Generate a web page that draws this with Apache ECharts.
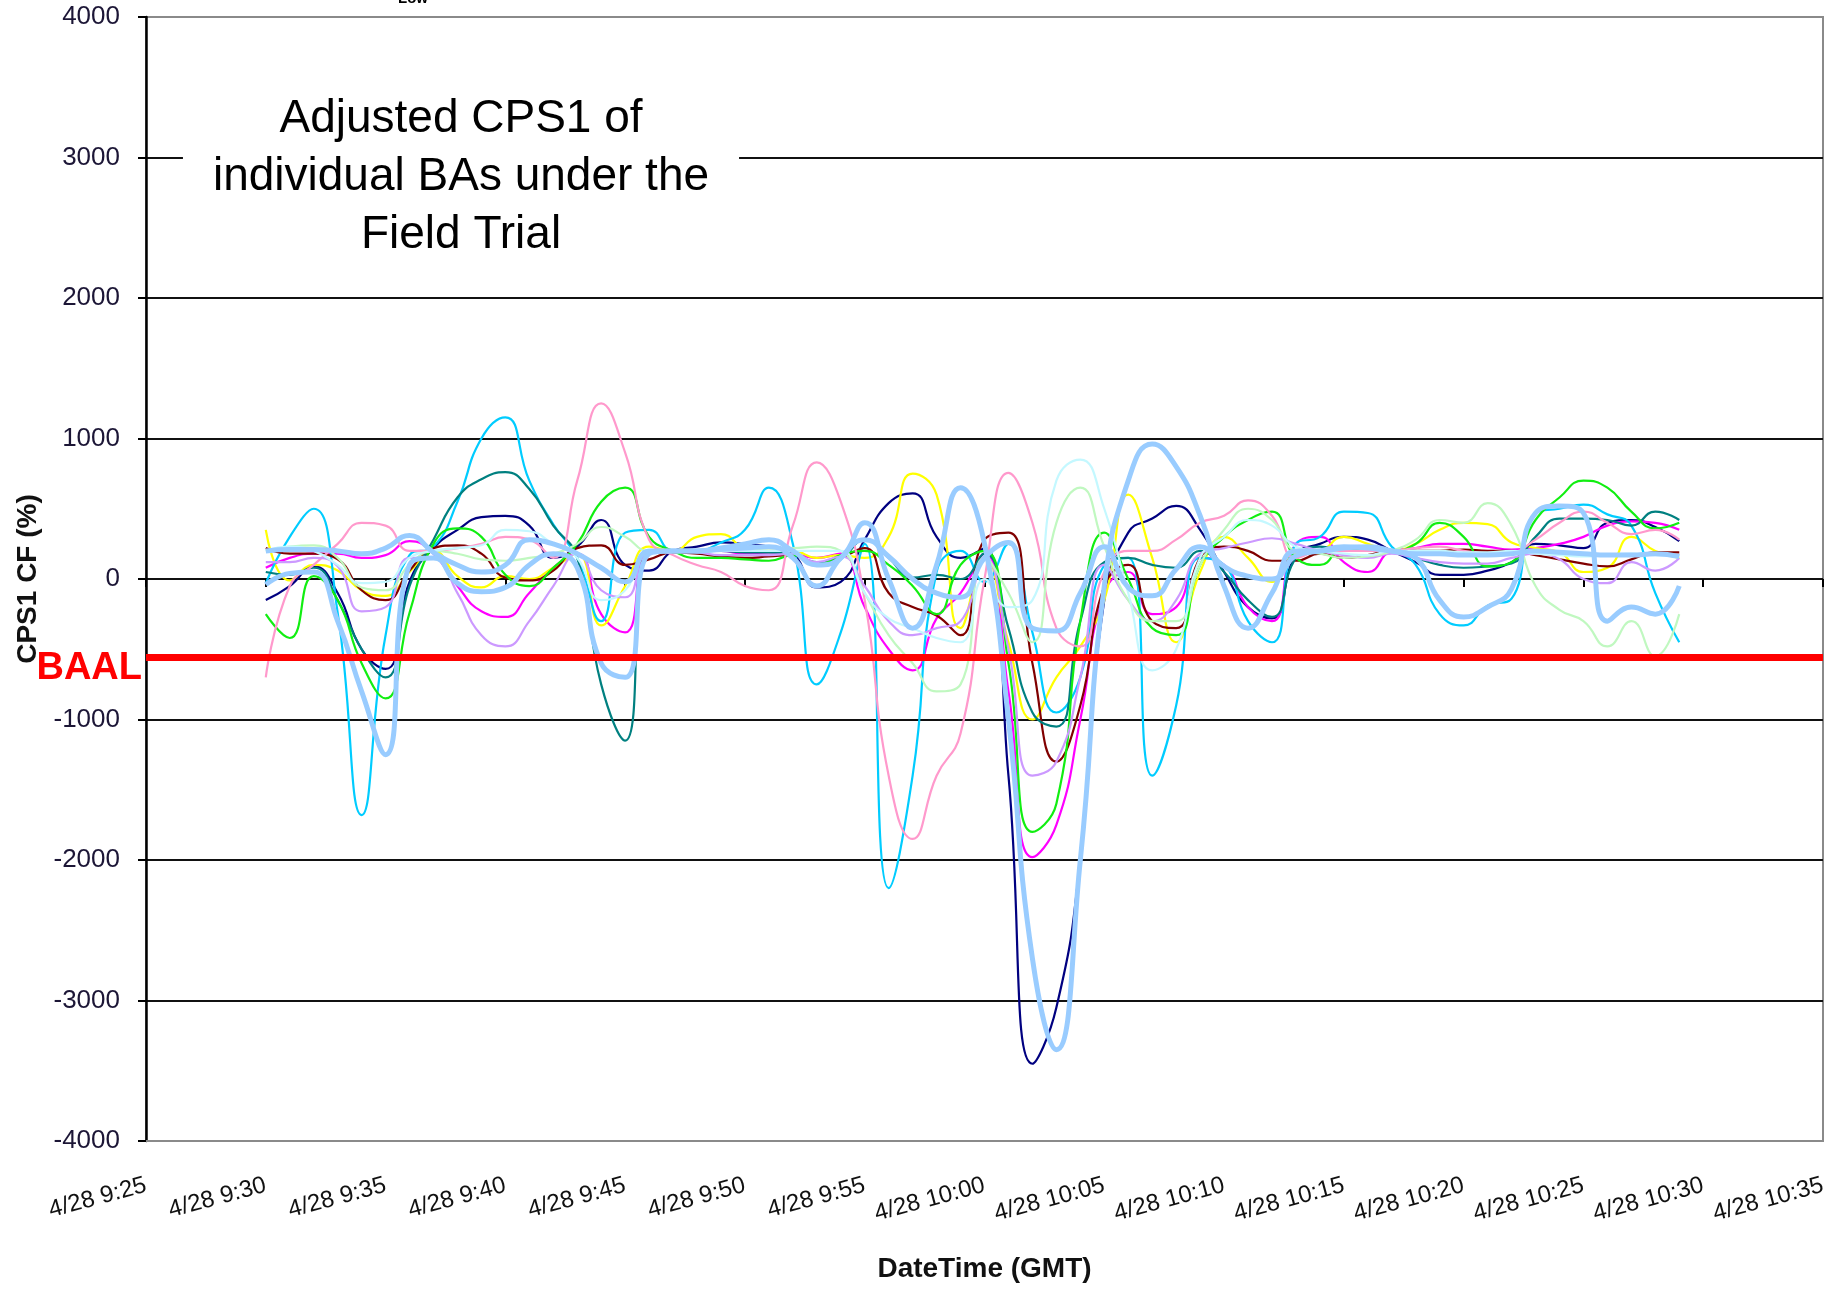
<!DOCTYPE html>
<html><head><meta charset="utf-8">
<script src="https://cdn.jsdelivr.net/npm/echarts@6/dist/echarts.min.js"></script>
<style>html,body{margin:0;padding:0;background:#fff}#c{width:1844px;height:1291px}</style>
</head><body><div id="c"></div>
<script>
// ---- axis categories: one per minute, 4/28 9:25 .. 4/28 10:35 ----
const categories = [];
for (let t = 9 * 60 + 25; t <= 10 * 60 + 35; t++) {
  categories.push('4/28 ' + Math.floor(t / 60) + ':' + String(t % 60).padStart(2, '0'));
}
const dataStartIndex = 5; // first sample at 4/28 9:30

// ---- y axis ----
const yMin = -4000, yMax = 4000, yStep = 1000;
const BAAL = -560;

// ---- series values (CPS1 CF %, one per minute 9:30 .. 10:29) ----
const navy = [-150,-50,90,-100,-500,-640,-20,220,350,440, 450,380,150,230,420,100,60,200,230,260, 250,230,180,-60,-20,280,540,610,300,150, 220,-1400,-3450,-3050,-2000,-150,330,430,520,350, 50,-200,-280,170,250,300,280,200,120,30, 30,60,120,250,240,220,400,420,370,270];
const magenta = [80,150,180,180,150,170,270,180,-50,-230, -270,-100,80,180,-250,-380,200,200,200,200, 180,190,180,150,180,-200,-500,-650,-280,-100, 180,-800,-1980,-1750,-1000,-100,50,-250,-200,150, 100,-200,-300,250,300,120,50,200,220,250, 250,230,210,220,250,300,380,410,400,350];
const yellow = [350,-10,100,60,-80,-120,50,200,20,-60, 20,0,80,180,-330,-50,230,200,300,320, 220,200,200,150,170,150,300,750,600,-350, 150,-450,-1000,-700,-480,-150,600,150,-450,50, 300,150,-20,180,200,300,250,200,250,350, 400,390,260,220,190,50,80,300,200,150];
const skyBlue = [-30,300,500,-240,-1680,-400,170,230,550,1000, 1150,700,390,150,-300,330,350,200,200,260, 350,650,250,-750,-380,250,-2200,-1400,50,200, -20,250,-380,-950,-700,100,150,-1400,-900,150, 100,-300,-450,250,300,480,470,230,100,-250, -330,-190,-140,470,500,530,460,380,-100,-450];
const darkRed = [220,180,180,140,-80,-150,60,220,240,180, 10,-10,60,220,240,100,140,190,180,160, 150,160,170,110,150,220,-100,-200,-260,-400, 280,330,-600,-1300,-900,-50,100,-300,-350,150, 230,200,130,130,180,150,170,200,200,200, 210,200,200,170,140,110,90,140,190,190];
const teal = [50,30,80,-150,-500,-700,-50,280,580,710, 760,640,380,150,-750,-1150,190,200,200,200, 190,190,180,120,150,280,150,10,30,0, 180,-350,-950,-1050,-300,120,150,100,80,200, 50,-150,-270,150,230,200,200,200,150,100, 80,90,110,300,430,430,420,380,480,420];
const green = [-250,-420,20,-150,-600,-850,-240,250,360,300, 30,-50,80,250,550,650,300,200,150,150, 140,130,170,100,170,200,100,-50,-250,100, 200,-600,-1800,-1600,-300,330,0,-350,-400,100, 300,420,480,150,100,220,200,200,250,400, 300,90,120,420,580,700,650,480,360,400];
const rose = [-700,-50,100,250,400,380,200,200,220,250, 300,280,150,700,1250,900,280,170,100,50, -50,-80,380,830,550,-150,-1400,-1850,-1400,-1100, 0,755,400,-350,-480,50,200,200,280,400, 450,560,450,150,200,200,200,200,220,230, 200,180,190,280,400,480,400,320,350,280];
const lavender = [120,120,150,90,-230,-200,150,150,-100,-400, -480,-300,-50,180,-80,-130,200,200,190,170, 170,170,180,120,160,-50,-300,-400,-350,-300, 150,-500,-1400,-1300,-700,100,-150,-300,-150,180, 220,260,290,250,200,170,150,180,150,120, 110,110,150,180,140,0,-30,120,60,150];
const lightGreen = [200,230,240,150,-60,-80,100,200,180,140, 130,150,180,250,370,300,200,200,200,200, 200,220,220,230,200,-100,-400,-600,-800,-750, 150,-100,-450,400,650,230,-150,-300,-300,100, 350,500,420,200,180,150,160,200,280,420, 400,540,380,-50,-220,-300,-480,-300,-550,-250];
const lightTurquoise = [200,230,200,100,-30,-20,150,200,220,240, 350,340,250,150,-150,-80,200,200,200,200, 200,200,200,200,200,-100,-280,-350,-420,-450, 0,-200,-150,700,850,500,-100,-650,-500,150, 300,420,380,230,200,180,170,200,200,200, 190,190,200,180,170,160,170,180,170,170];
const paleBlueA = [200,210,210,200,180,220,310,190,100,50, 100,280,250,180,80,-20,200,200,200,220, 250,280,200,100,150,400,0,-350,100,650, 250,-1000,-2700,-3350,-2000,-50,700,960,800,450, -50,-350,-100,200,200,220,230,200,150,-150, -270,-200,-70,470,520,470,-300,-200,-250,-50];
const paleBlueB = [-40,40,50,-300,-800,-1250,100,150,-30,-90, -60,100,180,80,-600,-700,180,200,200,210, 220,230,150,-50,150,280,160,0,-100,-130, 150,260,-350,-370,-100,230,-60,-120,70,230, 90,20,0,165,200,230,220,200,180,180, 170,170,180,200,190,180,170,170,180,160];

// ---- presentation ----
const seriesDefs = [
  { name: 'BA 1', values: navy, color: '#000080', width: 2.2 },
  { name: 'BA 2', values: magenta, color: '#ff00ff', width: 2.2 },
  { name: 'BA 3', values: yellow, color: '#ffff00', width: 2.2 },
  { name: 'BA 4', values: skyBlue, color: '#00ccff', width: 2.2 },
  { name: 'BA 5', values: darkRed, color: '#800000', width: 2.2 },
  { name: 'BA 6', values: teal, color: '#008080', width: 2.2 },
  { name: 'BA 7', values: green, color: '#11ee11', width: 2.2 },
  { name: 'BA 8', values: rose, color: '#ff99cc', width: 2.2 },
  { name: 'BA 9', values: lavender, color: '#cc99ff', width: 2.2 },
  { name: 'BA 10', values: lightGreen, color: '#c0f8c0', width: 2.2 },
  { name: 'BA 11', values: lightTurquoise, color: '#c4f8ff', width: 2.2 },
  { name: 'BA 12', values: paleBlueA, color: '#99ccff', width: 5 },
  { name: 'BA 13', values: paleBlueB, color: '#99ccff', width: 5 }
];

const sans = "'Liberation Sans',Arial,sans-serif";

function pad(vals) {
  const out = new Array(categories.length).fill(null);
  vals.forEach((v, i) => { out[dataStartIndex + i] = v; });
  return out;
}

const series = seriesDefs.map(d => ({
  name: d.name, type: 'line', smooth: 0.5, showSymbol: false, symbol: 'none',
  data: pad(d.values), connectNulls: false,
  lineStyle: { color: d.color, width: d.width }, itemStyle: { color: d.color },
  emphasis: { disabled: true }, silent: true
}));

series.push({
  name: 'BAAL', type: 'line', data: [], silent: true,
  markLine: {
    silent: true, symbol: ['none', 'none'],
    lineStyle: { color: '#ff0000', width: 7, type: 'solid' },
    label: { show: true, position: 'start', formatter: 'BAAL', color: '#ff0000',
      fontFamily: sans, fontWeight: 'bold', fontSize: 38, distance: 4, offset: [0, 11] },
    data: [{ yAxis: BAAL }]
  }
});

const chart = echarts.init(document.getElementById('c'), null, { renderer: 'canvas' });
chart.setOption({
  animation: false,
  backgroundColor: '#fff',
  grid: { left: 146, right: 21, top: 17, bottom: 150, containLabel: false, outerBoundsMode: 'none',
    show: true, borderColor: '#8a8a8a', borderWidth: 2, backgroundColor: 'transparent' },
  xAxis: [{
    type: 'category', data: categories, boundaryGap: false, position: 'bottom',
    axisLine: { onZero: false, show: true, lineStyle: { color: '#8a8a8a', width: 2 } },
    axisTick: { show: false },
    axisLabel: { interval: 4, rotate: 15, margin: 44, fontFamily: sans, fontSize: 24, color: '#111' },
    splitLine: { show: false },
    name: 'DateTime (GMT)', nameLocation: 'middle', nameGap: 114,
    nameTextStyle: { fontFamily: sans, fontWeight: 'bold', fontSize: 28, color: '#111' }
  }, {
    type: 'category', data: categories, boundaryGap: false, position: 'top',
    axisLine: { onZero: true, show: false },
    axisTick: { show: true, interval: 4, inside: true, length: 8, lineStyle: { color: '#000', width: 2 } },
    axisLabel: { show: false }, splitLine: { show: false }
  }],
  yAxis: {
    type: 'value', min: yMin, max: yMax, interval: yStep,
    axisLine: { show: true, lineStyle: { color: '#000', width: 2.5 } },
    axisTick: { show: true, length: 8, lineStyle: { color: '#000', width: 2 } },
    axisLabel: { margin: 26, fontFamily: sans, fontSize: 26, color: '#1c1636',
      formatter: v => String(v) },
    splitLine: { show: true, lineStyle: { width: 2,
      color: ['#8a8a8a', '#111', '#111', '#111', '#111', '#111', '#111', '#111', '#8a8a8a'] } },
    name: 'CPS1 CF (%)', nameLocation: 'middle', nameGap: 88,
    nameTextStyle: { fontFamily: sans, fontWeight: 'bold', fontSize: 28, color: '#111' }
  },
  graphic: [
    { type: 'text', x: 461, y: 78, z: 50,
      style: { text: 'Adjusted CPS1 of\nindividual BAs under the\nField Trial', align: 'center',
        fontFamily: sans, fontSize: 46, lineHeight: 58, fill: '#000',
        backgroundColor: '#fff', padding: [12, 30, 12, 30] } },
    { type: 'text', x: 398, y: -9, z: 50,
      style: { text: 'Low', fontFamily: sans, fontWeight: 'bold', fontSize: 15, fill: '#000' } }
  ],
  series: series
});
</script></body></html>
